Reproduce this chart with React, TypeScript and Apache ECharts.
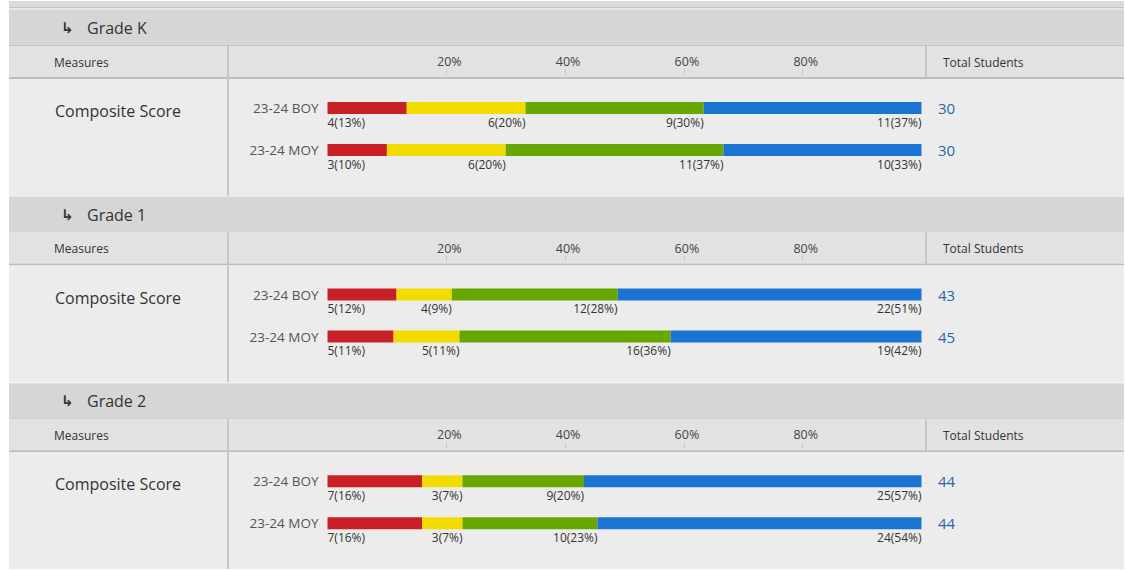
import React, { useEffect, useRef } from "react";
import * as echarts from "echarts";

const gradeNames = ["Grade K", "Grade 1", "Grade 2"];
const periods = ["23-24 BOY", "23-24 MOY"];
const measureName = "Composite Score";
const tickValues = [20, 40, 60, 80];
const levelNames = ["Well Below", "Below", "At/Above", "Above"];
const levelColors = ["#c92027", "#f2dc00", "#68a600", "#1b74d1"];

// counts per level [red, yellow, green, blue]
const gradeKBoy = [4, 6, 9, 11];
const gradeKMoy = [3, 6, 11, 10];
const grade1Boy = [5, 4, 12, 22];
const grade1Moy = [5, 5, 16, 19];
const grade2Boy = [7, 3, 9, 25];
const grade2Moy = [7, 3, 10, 24];

// displayed percentages
const gradeKBoyPct = [13, 20, 30, 37];
const gradeKMoyPct = [10, 20, 37, 33];
const grade1BoyPct = [12, 9, 28, 51];
const grade1MoyPct = [11, 11, 36, 42];
const grade2BoyPct = [16, 7, 20, 57];
const grade2MoyPct = [16, 7, 23, 54];

// total students [BOY, MOY]
const gradeKTotals = [30, 30];
const grade1Totals = [43, 45];
const grade2Totals = [44, 44];

const FONT = "'Open Sans', 'Noto Sans', sans-serif";

export default function App() {
  const ref = useRef<HTMLDivElement>(null);
  useEffect(() => {
    if (!ref.current) return;
    const chart = echarts.init(ref.current, null, { renderer: "svg" });

    const sections = [
      { counts: [gradeKBoy, gradeKMoy], pcts: [gradeKBoyPct, gradeKMoyPct], totals: gradeKTotals },
      { counts: [grade1Boy, grade1Moy], pcts: [grade1BoyPct, grade1MoyPct], totals: grade1Totals },
      { counts: [grade2Boy, grade2Moy], pcts: [grade2BoyPct, grade2MoyPct], totals: grade2Totals },
    ];

    const PERIOD = 186.6;
    const LEFT = 327.5;
    const RIGHT = 921.5;
    const grids: any[] = [];
    const xAxes: any[] = [];
    const yAxes: any[] = [];
    const series: any[] = [];
    const graphics: any[] = [];

    // top strip
    graphics.push({ type: "rect", z: -5, shape: { x: 9, y: 1, width: 1115, height: 6 }, style: { fill: "#dadada" } });
    graphics.push({ type: "rect", z: -5, shape: { x: 9, y: 7, width: 1115, height: 1 }, style: { fill: "#c4c4c4" } });
    graphics.push({ type: "rect", z: -5, shape: { x: 9, y: 8, width: 1115, height: 2 }, style: { fill: "#e6e6e6" } });

    sections.forEach((sec, i) => {
      const y0 = 10 + i * PERIOD;
      // backgrounds
      graphics.push({ type: "rect", z: -5, shape: { x: 9, y: y0, width: 1115, height: 35 }, style: { fill: "#d6d6d6" } });
      graphics.push({ type: "rect", z: -5, shape: { x: 9, y: y0 + 35, width: 1115, height: 1 }, style: { fill: "#c2c2c2" } });
      graphics.push({ type: "rect", z: -5, shape: { x: 9, y: y0 + 36, width: 1115, height: 31 }, style: { fill: "#e2e2e2" } });
      graphics.push({ type: "rect", z: -5, shape: { x: 9, y: y0 + 67, width: 1115, height: 2 }, style: { fill: "#bdbdbd" } });
      graphics.push({ type: "rect", z: -5, shape: { x: 9, y: y0 + 69, width: 1115, height: PERIOD - 69 - 0.6 }, style: { fill: "#ececec" } });
      graphics.push({ type: "rect", z: -4, shape: { x: 227, y: y0 + 36, width: 2, height: PERIOD - 37 }, style: { fill: "#c6c6c6" } });
      graphics.push({ type: "rect", z: -4, shape: { x: 925, y: y0 + 36, width: 2, height: 31 }, style: { fill: "#c6c6c6" } });
      // texts
      graphics.push({ type: "text", z: 5, x: 61, y: y0 + 18, style: { text: "↳", font: "bold 15px 'DejaVu Sans'", fill: "#333", verticalAlign: "middle" } });
      graphics.push({ type: "text", z: 5, x: 87, y: y0 + 18, style: { text: gradeNames[i], font: `16px ${FONT}`, fill: "#333", verticalAlign: "middle" } });
      graphics.push({ type: "text", z: 5, x: 54, y: y0 + 52, style: { text: "Measures", font: `12px ${FONT}`, fill: "#333", verticalAlign: "middle" } });
      graphics.push({ type: "text", z: 5, x: 943, y: y0 + 52, style: { text: "Total Students", font: `12px ${FONT}`, fill: "#333", verticalAlign: "middle" } });
      graphics.push({ type: "text", z: 5, x: 55, y: y0 + 101, style: { text: measureName, font: `16px ${FONT}`, fill: "#333", verticalAlign: "middle" } });

      const top = 87 + i * PERIOD;
      grids.push({ left: LEFT, width: RIGHT - LEFT, top, height: 84 });
      xAxes.push({
        type: "value",
        gridIndex: i,
        position: "top",
        offset: 12,
        min: 0,
        max: 100,
        interval: 20,
        axisLine: { show: false },
        splitLine: { show: false },
        axisTick: { show: true, length: 6, customValues: tickValues, lineStyle: { color: "#c8c8c8" } },
        axisLabel: {
          show: true,
          customValues: tickValues,
          margin: 7,
          padding: [0, 0, 0, 6],
          formatter: (v: number) => `${v}%`,
          color: "#444",
          fontSize: 12.5,
          fontFamily: FONT,
        },
      });
      // categories: bottom-first, so MOY then BOY
      const cats = [periods[1], periods[0]];
      yAxes.push({
        type: "category",
        gridIndex: i,
        position: "left",
        data: cats,
        axisLine: { show: false },
        axisTick: { show: false },
        splitLine: { show: false },
        axisLabel: { margin: 9, padding: [6, 0, 0, 0], color: "#555", fontSize: 13.5, fontFamily: FONT },
      });
      yAxes.push({
        type: "category",
        gridIndex: i,
        position: "right",
        data: [String(sec.totals[1]), String(sec.totals[0])],
        axisLine: { show: false },
        axisTick: { show: false },
        splitLine: { show: false },
        axisLabel: { margin: 16.5, padding: [6, 0, 0, 0], color: "#2a66a8", fontSize: 15, fontFamily: FONT, align: "left" },
      });

      for (let j = 0; j < 4; j++) {
        const rows = [1, 0]; // MOY at index 0, BOY at index 1
        series.push({
          type: "bar",
          name: levelNames[j],
          xAxisIndex: i,
          yAxisIndex: 2 * i,
          stack: "s" + i,
          barWidth: 12,
          itemStyle: { color: levelColors[j] },
          data: rows.map((r) => (sec.counts[r][j] / sec.totals[r]) * 100),
          label: {
            show: true,
            position: j === 0 ? ["0%", "100%"] : ["100%", "100%"],
            align: j === 0 ? "left" : "right",
            verticalAlign: "top",
            offset: [0, 2],
            color: "#333",
            fontSize: 12,
            fontFamily: FONT,
            formatter: (p: any) => {
              const r = rows[p.dataIndex];
              return `${sec.counts[r][j]}(${sec.pcts[r][j]}%)`;
            },
          },
        });
      }
    });

    chart.setOption({
      animation: false,
      backgroundColor: "#ffffff",
      grid: grids,
      xAxis: xAxes,
      yAxis: yAxes,
      series,
      graphic: graphics,
    });
    return () => chart.dispose();
  }, []);
  return <div ref={ref} style={{ position: "absolute", left: 0, top: 0, width: 1126, height: 570 }} />;
}
